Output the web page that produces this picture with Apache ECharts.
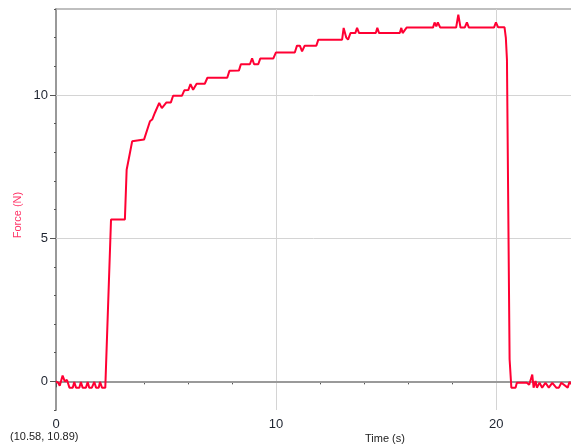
<!DOCTYPE html>
<html>
<head>
<meta charset="utf-8">
<script src="https://cdn.jsdelivr.net/npm/echarts@6/dist/echarts.min.js"></script>
<style>
    html, body { margin: 0; padding: 0; background: #fff; }
    #chart { width: 571px; height: 448px; }
</style>
</head>
<body>
<div id="chart"></div>
<script>
// force sensor run
const timeValues = [
    0, 0.1, 0.17, 0.3, 0.4, 0.5, 0.61, 0.76, 0.83, 0.91, 1.06, 1.13, 1.21, 1.36, 1.44, 1.51,
    1.63, 1.74, 1.82, 1.94, 2.0, 2.09, 2.24, 2.31, 2.5, 3.13, 3.21, 3.33, 3.46, 3.5, 4.0, 4.27,
    4.37, 4.49, 4.69, 4.81, 4.9, 5.02, 5.22, 5.32, 5.72, 5.83, 6.01, 6.11, 6.23, 6.39, 6.76, 6.88,
    7.78, 7.88, 8.31, 8.4, 8.81, 8.91, 9.0, 9.19, 9.28, 9.87, 9.99, 10.85, 10.95, 11.08, 11.18, 11.3,
    11.83, 11.92, 13.0, 13.07, 13.19, 13.27, 13.38, 13.6, 13.68, 13.77, 14.53, 14.6, 14.68, 15.62, 15.69, 15.75,
    15.84, 15.93, 17.13, 17.2, 17.28, 17.35, 17.46, 18.18, 18.28, 18.38, 18.57, 18.67, 18.76, 19.9, 19.99, 20.09,
    20.38, 20.44, 20.49, 20.61, 20.69, 20.88, 20.94, 21.39, 21.5, 21.64, 21.7, 21.79, 21.85, 21.97, 22.09, 22.24,
    22.39, 22.55, 22.73, 22.85, 22.96, 23.03, 23.25, 23.33, 23.4
];
const forceValues = [
    0, -0.05, -0.15, 0.2, 0, 0.05, -0.22, -0.22, -0.02, -0.22, -0.22, -0.02, -0.22, -0.22, -0.02, -0.22,
    -0.22, -0.02, -0.22, -0.22, -0.02, -0.22, -0.22, -0.22, 5.65, 5.65, 7.39, 7.86, 8.38, 8.44, 8.44, 9.08,
    9.14, 9.37, 9.72, 9.54, 9.54, 9.74, 9.74, 9.97, 9.97, 10.16, 10.17, 10.38, 10.18, 10.39, 10.39, 10.6,
    10.6, 10.84, 10.85, 11.07, 11.07, 11.28, 11.07, 11.07, 11.27, 11.27, 11.48, 11.48, 11.72, 11.72, 11.52, 11.72,
    11.72, 11.93, 11.93, 12.34, 12.0, 11.93, 12.16, 12.16, 12.34, 12.16, 12.16, 12.34, 12.16, 12.16, 12.34, 12.16,
    12.16, 12.35, 12.35, 12.53, 12.39, 12.53, 12.35, 12.35, 12.8, 12.35, 12.35, 12.53, 12.35, 12.35, 12.53, 12.36,
    12.36, 11.99, 11.23, 0.77, -0.22, -0.22, -0.05, -0.05, -0.12, 0.24, -0.22, 0.01, -0.22, -0.05, -0.22, -0.05,
    -0.22, -0.05, -0.22, -0.22, -0.05, -0.05, -0.22, -0.02, -0.1
];
const xMajorTicks = [0, 10, 20];
const yMajorTicks = [0, 5, 10];
const xGridValues = [10, 20];
const yGridValues = [5, 10];
const cursorText = '(10.58, 10.89)';

const font = 'Arial, "Liberation Sans", sans-serif';
const xMin = 0, xMax = 23.4, yMin = -1, yMax = 13;

const chart = echarts.init(document.getElementById('chart'));

const gridMarks = [];
yGridValues.forEach((v) => gridMarks.push({yAxis: v, lineStyle: {color: '#d4d4d4', width: 1, type: 'solid'}}));
xGridValues.forEach((v) => gridMarks.push({xAxis: v, lineStyle: {color: '#d4d4d4', width: 1, type: 'solid'}}));
gridMarks.push({yAxis: 0, lineStyle: {color: '#9a9a9a', width: 2, type: 'solid'}});

const points = timeValues.map((t, i) => [t, forceValues[i]]);

const option = {
    animation: false,
    grid: {left: 56, right: 0, top: 9, bottom: 38, containLabel: false},
    xAxis: [
        {
            type: 'value', min: xMin, max: xMax, interval: 2, position: 'bottom',
            axisLine: {show: false},
            axisTick: {show: true, length: 3, lineStyle: {color: '#555'}},
            axisLabel: {
                show: true, margin: 8, showMaxLabel: false,
                color: '#1e2430', fontSize: 13, fontFamily: font,
                formatter: (v) => (xMajorTicks.indexOf(v) >= 0 ? String(v) : ''),
            },
            splitLine: {show: false},
        },
        {
            type: 'value', min: xMin, max: xMax, position: 'bottom',
            axisLine: {show: false},
            axisTick: {show: true, length: 6, customValues: xMajorTicks, lineStyle: {color: '#555'}},
            axisLabel: {show: false},
            splitLine: {show: false},
        },
        {
            type: 'value', min: xMin, max: xMax, position: 'top',
            axisLine: {show: true, lineStyle: {color: '#aaa', width: 1.5}},
            axisTick: {show: false},
            axisLabel: {show: false},
            splitLine: {show: false},
        },
    ],
    yAxis: [
        {
            type: 'value', min: yMin, max: yMax, interval: 1, position: 'left',
            axisLine: {show: true, lineStyle: {color: '#999', width: 2}},
            axisTick: {show: true, length: 2, lineStyle: {color: '#555'}},
            axisLabel: {
                show: true, margin: 8,
                color: '#1e2430', fontSize: 13, fontFamily: font,
                formatter: (v) => (yMajorTicks.indexOf(v) >= 0 ? String(v) : ''),
            },
            splitLine: {show: false},
        },
        {
            type: 'value', min: yMin, max: yMax, position: 'left',
            axisLine: {show: false},
            axisTick: {show: true, length: 6, customValues: yMajorTicks, lineStyle: {color: '#555'}},
            axisLabel: {show: false},
            splitLine: {show: false},
        },
    ],
    graphic: [
        {type: 'text', left: 10, top: 431, style: {text: cursorText, fill: '#222', font: '11px ' + font}},
        {type: 'text', left: 365, top: 433, style: {text: 'Time (s)', fill: '#222', font: '11px ' + font}},
        {
            type: 'text', x: 18, y: 215, rotation: Math.PI / 2,
            style: {text: 'Force (N)', fill: '#ff3366', font: '11px ' + font, align: 'center', verticalAlign: 'middle'},
        },
    ],
    series: [
        {
            // only carries the grid lines, kept under the red trace
            type: 'line', z: 1, data: points, symbol: 'none', silent: true,
            lineStyle: {opacity: 0},
            markLine: {silent: true, symbol: 'none', label: {show: false}, data: gridMarks},
        },
        {
            name: 'Force', type: 'line', z: 5, data: points,
            symbol: 'none', showSymbol: false,
            lineStyle: {color: '#ff0033', width: 2},
        },
    ],
};

chart.setOption(option);
</script>
</body>
</html>
